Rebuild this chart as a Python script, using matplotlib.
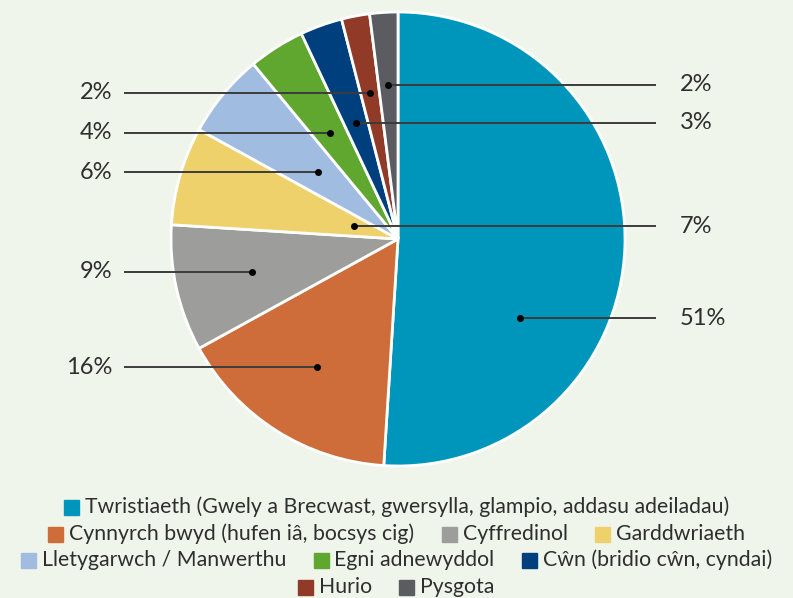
import numpy as np
import matplotlib
matplotlib.use("Agg")
import matplotlib.pyplot as plt
from matplotlib.patches import Rectangle

plt.rcParams['font.family'] = ['Lato', 'DejaVu Sans']

# data
categories = [
    'Twristiaeth (Gwely a Brecwast, gwersylla, glampio, addasu adeiladau)',
    'Cynnyrch bwyd (hufen iâ, bocsys cig)',
    'Cyffredinol',
    'Garddwriaeth',
    'Lletygarwch / Manwerthu',
    'Egni adnewyddol',
    'Cŵn (bridio cŵn, cyndai)',
    'Hurio',
    'Pysgota',
]
values = [51, 16, 9, 7, 6, 4, 3, 2, 2]
colors = ['#0096bb', '#cf6d3a', '#9d9d9b', '#eed16a', '#a0bce0',
          '#60a72f', '#003f7d', '#913a28', '#5b5c61']
legend_rows = [[0], [1, 2, 3], [4, 5, 6], [7, 8]]

# leader line layout (side of label, dot distance from centre as fraction of radius)
label_side = ['right', 'left', 'left', 'right', 'left', 'left', 'right', 'left', 'right']
dot_r = [0.64, 0.67, 0.66, 0.20, 0.46, 0.555, 0.545, 0.655, 0.68]
dot_angle_override = {0: -33.0}

W, H = 793, 598
bg = '#f0f5eb'
txt_col = '#2e2e2e'

fig = plt.figure(figsize=(W / 100, H / 100), dpi=100, facecolor=bg)
ax = fig.add_axes([0, 0, 1, 1])
ax.set_facecolor(bg)

cx, cy, R = 398, H - 239, 227
wedges, _ = ax.pie(values, colors=colors, startangle=90, counterclock=False,
                   center=(cx, cy), radius=R,
                   wedgeprops=dict(edgecolor='white', linewidth=2))
ax.set_xlim(0, W)
ax.set_ylim(0, H)
ax.set_aspect('equal', adjustable='box')
ax.axis('off')

# percentage labels with leader lines
for i, w in enumerate(wedges):
    ang = np.deg2rad(dot_angle_override.get(i, (w.theta1 + w.theta2) / 2))
    dx = cx + dot_r[i] * R * np.cos(ang)
    dy = cy + dot_r[i] * R * np.sin(ang)
    ax.plot([dx], [dy], 'o', color='black', ms=4, zorder=5)
    if label_side[i] == 'left':
        ax.plot([cx - 1.203 * R, dx], [dy, dy], color='#3c3c3c', lw=1.4, zorder=4)
        ax.text(cx - 1.258 * R, dy, f'{values[i]}%', ha='right', va='center',
                fontsize=17, color=txt_col)
    else:
        ax.plot([dx, cx + 1.134 * R], [dy, dy], color='#3c3c3c', lw=1.4, zorder=4)
        ax.text(cx + 1.24 * R, dy, f'{values[i]}%', ha='left', va='center',
                fontsize=17, color=txt_col)

# legend built row by row, centred
row_y = [H - 507, H - 534, H - 560, H - 587]
sq = 15
gap_sq = 6
gap_item = 27
fig.canvas.draw()
renderer = fig.canvas.get_renderer()
for r, row in enumerate(legend_rows):
    texts, widths = [], []
    for idx in row:
        t = ax.text(0, row_y[r], categories[idx], ha='left', va='center',
                    fontsize=15.3, color=txt_col)
        widths.append(t.get_window_extent(renderer).width)
        texts.append(t)
    total = sum(sq + gap_sq + w for w in widths) + gap_item * (len(row) - 1)
    x = W / 2 - total / 2
    for idx, t, w in zip(row, texts, widths):
        ax.add_patch(Rectangle((x, row_y[r] - sq / 2), sq, sq, color=colors[idx]))
        t.set_x(x + sq + gap_sq)
        x += sq + gap_sq + w + gap_item

fig.savefig('out.png', dpi=100, facecolor=bg)
